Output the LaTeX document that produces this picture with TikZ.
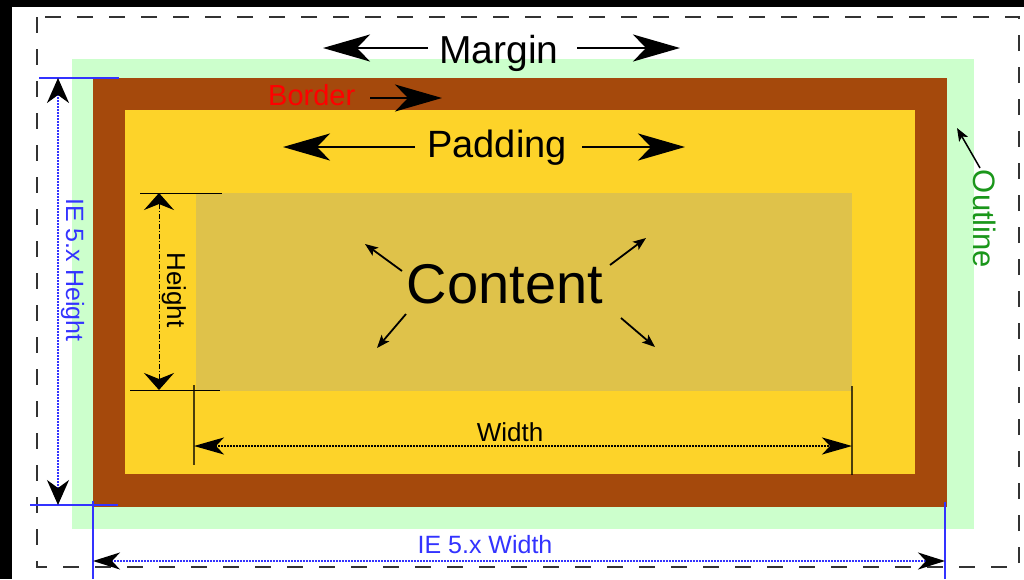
\documentclass[tikz,border=0pt]{standalone}
\usepackage{fontspec}
\setmainfont{Liberation Sans}
\usetikzlibrary{arrows.meta}

\definecolor{outlinegreen}{HTML}{CCFFCC}
\definecolor{borderbrown}{HTML}{A5490C}
\definecolor{paddingyellow}{HTML}{FDD329}
\definecolor{contenttan}{HTML}{DFC24A}
\definecolor{dimblue}{HTML}{3333FF}
\definecolor{labelgreen}{HTML}{1A961A}
\definecolor{dashgray}{HTML}{333333}

\newcommand{\fsz}[1]{\fontsize{#1}{#1}\selectfont}

\begin{document}
\begin{tikzpicture}[x=1pt,y=-1pt,
  bigarrow/.style={-{Stealth[length=47pt,width=27pt,inset=13pt]}, line width=2.5pt, black},
  smallarrow/.style={-{Stealth[length=13pt,width=10pt,inset=3pt]}, line width=1.8pt, black},
  heightdim/.style={{Stealth[length=17pt,width=30pt,inset=6pt]}-{Stealth[length=17pt,width=30pt,inset=6pt]},
                    line width=1pt, dash pattern=on 5pt off 2pt on 1pt off 2pt, black},
  widthdim/.style={{Stealth[length=30pt,width=17pt,inset=8pt]}-{Stealth[length=30pt,width=17pt,inset=8pt]},
                   line width=2pt, dash pattern=on 1.5pt off 1.5pt, black},
  ieheightdim/.style={{Stealth[length=25pt,width=22pt,inset=8pt,black]}-{Stealth[length=25pt,width=22pt,inset=8pt,black]},
                      line width=2pt, dash pattern=on 1.5pt off 1.5pt, dimblue},
  iewidthdim/.style={{Stealth[length=27pt,width=17pt,inset=8pt,black]}-{Stealth[length=27pt,width=17pt,inset=8pt,black]},
                     line width=2pt, dash pattern=on 1.5pt off 1.5pt, dimblue},
  extline/.style={line width=1pt, black},
  extdark/.style={line width=2pt, black, opacity=0.7},
  extblue/.style={line width=1.5pt, dimblue},
  label/.style={inner sep=0pt, anchor=base},
  dashframe/.style={line width=2pt, dashgray, dash pattern=on 16pt off 16pt}
]
\useasboundingbox (0,0) rectangle (1024,579);

% dark edges
\fill[black] (0,0) rectangle (12,579);
\fill[black] (0,0) rectangle (1024,7);

% margin frame and the nested boxes
\draw[dashframe] (37,17) rectangle (1019,567);
\fill[outlinegreen] (72,59) rectangle (974,529);
\fill[borderbrown] (93,78) rectangle (947,507);
\fill[paddingyellow] (125,110) rectangle (915,474);
\fill[contenttan] (196,193) rectangle (852,391);

% Margin
\node[label, font=\fsz{39}] (margin) at (499,63) {Margin};
\coordinate (marginLs) at (428,48);
\coordinate (marginLt) at (323,48);
\coordinate (marginRs) at (577,48);
\coordinate (marginRt) at (680,48);
\draw[bigarrow] (marginLs) -- (marginLt);
\draw[bigarrow] (marginRs) -- (marginRt);

% Border
\node[inner sep=0pt, anchor=base west, font=\fsz{29}, text=red] (border) at (268,105.5) {Border};
\coordinate (borderS) at (370,98);
\coordinate (borderT) at (442,98);
\draw[bigarrow] (borderS) -- (borderT);

% Padding
\node[label, font=\fsz{38}] (padding) at (497,157) {Padding};
\coordinate (padLs) at (415,147);
\coordinate (padLt) at (283,147);
\coordinate (padRs) at (582,147);
\coordinate (padRt) at (685,147);
\draw[bigarrow] (padLs) -- (padLt);
\draw[bigarrow] (padRs) -- (padRt);

% Content
\node[label, font=\fsz{56}] (content) at (505,303) {Content};
\coordinate (cUL1) at (402,271); \coordinate (cUL2) at (365,244);
\coordinate (cUR1) at (610,265); \coordinate (cUR2) at (646,238);
\coordinate (cLL1) at (406,314); \coordinate (cLL2) at (377,348);
\coordinate (cLR1) at (621,318); \coordinate (cLR2) at (655,347);
\draw[smallarrow] (cUL1) -- (cUL2);
\draw[smallarrow] (cUR1) -- (cUR2);
\draw[smallarrow] (cLL1) -- (cLL2);
\draw[smallarrow] (cLR1) -- (cLR2);

% Height dimension
\coordinate (hT1) at (140,193); \coordinate (hT2) at (222,193);
\coordinate (hB1) at (130,390); \coordinate (hB2) at (220,390);
\draw[extline] (hT1) -- (hT2);
\draw[extline] (hB1) -- (hB2);
\coordinate (hTop) at (159,193);
\coordinate (hBot) at (159,390);
\draw[heightdim] (hTop) -- (hBot);
\node[label, font=\fsz{26}, rotate=-90] (height) at (167,290) {Height};

% Width dimension
\coordinate (wL1) at (194,385); \coordinate (wL2) at (194,465);
\coordinate (wR1) at (852,386); \coordinate (wR2) at (852,475);
\draw[extdark] (wL1) -- (wL2);
\draw[extdark] (wR1) -- (wR2);
\coordinate (wLeft) at (194,446);
\coordinate (wRight) at (852,446);
\draw[widthdim] (wLeft) -- (wRight);
\node[label, font=\fsz{26}] (width) at (510,441) {Width};

% IE 5.x height
\coordinate (ihT1) at (39,78); \coordinate (ihT2) at (119,78);
\coordinate (ihB1) at (30,505); \coordinate (ihB2) at (118,505);
\draw[extblue] (ihT1) -- (ihT2);
\draw[extblue] (ihB1) -- (ihB2);
\coordinate (ihTop) at (58,78);
\coordinate (ihBot) at (58,505);
\draw[ieheightdim] (ihTop) -- (ihBot);
\node[label, font=\fsz{25}, rotate=-90, text=dimblue] (ieheight) at (66,270) {IE 5.x Height};

% IE 5.x width
\coordinate (iwL1) at (93,501); \coordinate (iwL2) at (93,579);
\coordinate (iwR1) at (945,502); \coordinate (iwR2) at (945,579);
\draw[extblue] (iwL1) -- (iwL2);
\draw[extblue] (iwR1) -- (iwR2);
\coordinate (iwLeft) at (93,561);
\coordinate (iwRight) at (945,561);
\draw[iewidthdim] (iwLeft) -- (iwRight);
\node[label, font=\fsz{25}, text=dimblue] (iewidth) at (485,553) {IE 5.x Width};

% Outline
\node[label, font=\fsz{31}, rotate=-90, text=labelgreen] (outline) at (973,219) {Outline};
\coordinate (oS) at (980,168);
\coordinate (oT) at (957,128);
\draw[smallarrow, line width=1.5pt] (oS) -- (oT);
\end{tikzpicture}
\end{document}
